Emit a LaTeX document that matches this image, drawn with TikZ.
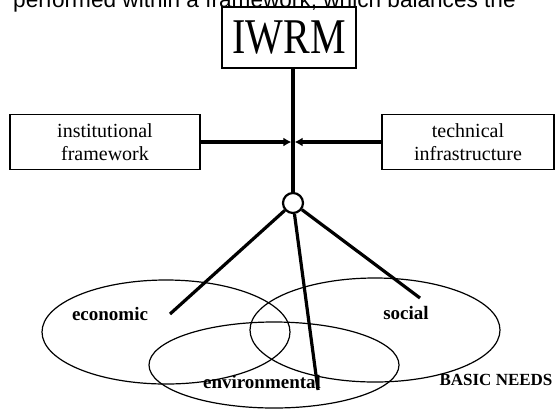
\documentclass[tikz,border=0pt]{standalone}
\usepackage{fontspec}
\setmainfont{Liberation Serif}
\newfontfamily\leadsans{Liberation Sans}
\usetikzlibrary{arrows.meta,shapes.geometric}
\begin{document}
\begin{tikzpicture}[x=1pt,y=-1pt,
  box/.style={draw, line width=1.6pt, inner sep=0pt, align=center,
    font=\fontsize{20}{23}\selectfont},
  link/.style={line width=3.2pt},
  push/.style={link, -{Latex[length=8pt,width=9pt]}, shorten >=1.6pt},
  blob/.style={draw, ellipse, line width=1.2pt, inner sep=0pt},
  tag/.style={font=\fontsize{19}{22}\selectfont\bfseries, anchor=base, inner sep=0pt},
]
\useasboundingbox (0,0) rectangle (556,408);
\clip (0,0) rectangle (556,408);

% running text of the page above the figure
\node[anchor=base west, inner sep=0pt, font=\leadsans\fontsize{22.6}{26}\selectfont]
  (lead) at (13,7) {performed within a framework, which balances the};

% the three overlapping spheres
\node[blob, minimum width=248, minimum height=104] (econ) at (166,332) {};
\node[blob, minimum width=250, minimum height=104] (soc) at (375,330) {};
\node[blob, minimum width=250, minimum height=86] (env) at (274,365) {};

% boxes
\node[box, minimum width=134, minimum height=61] (iwrm) at (289,37.5)
  {\scalebox{0.8}[1]{\fontsize{50}{50}\selectfont IWRM}};
\node[box, minimum width=190, minimum height=55] (inst) at (105,142)
  {institutional\\framework};
\node[box, minimum width=172, minimum height=55] (tech) at (468,142)
  {technical\\infrastructure};

% hub and junction
\coordinate (j) at (293,142);
\node[draw, circle, line width=2.2pt, minimum size=20, inner sep=0pt] (hub) at (293,203) {};

\draw[push] (inst.east) -- (j);
\draw[push] (tech.west) -- (j);
\draw[link] (hub) -- (hub |- iwrm.south);

% branches to the spheres
\coordinate (econTip) at (170,314);
\coordinate (socTip) at (420,298);
\coordinate (envTip) at (318,390);
\draw[link] (hub) -- (econTip);
\draw[link] (hub) -- (socTip);
\draw[link] (hub) -- (envTip);

% labels
\node[tag] (econLbl) at (110,320) {economic};
\node[tag] (socLbl) at (406,319) {social};
\node[tag] (envLbl) at (262,388) {environmental};
\node[tag, font=\fontsize{17}{20}\selectfont\bfseries] (needs) at (496,385) {BASIC NEEDS};
\end{tikzpicture}
\end{document}
